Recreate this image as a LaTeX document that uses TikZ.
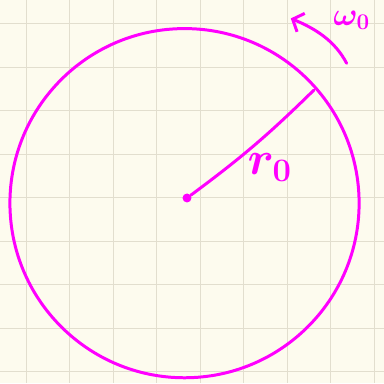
\documentclass[tikz,border=0pt]{standalone}
\usepackage{amsmath}
\usepackage{tikz}
\usetikzlibrary{arrows.meta}
\definecolor{paper}{RGB}{253,251,238}
\definecolor{gridgray}{RGB}{226,222,206}
\definecolor{pen}{RGB}{255,0,255}

\begin{document}
\begin{tikzpicture}[x=1pt, y=1pt,
    ink/.style={draw=pen, line width=3pt, line cap=round},
    gridline/.style={draw=gridgray, line width=0.9pt},
    hand/.style={text=pen, inner sep=0pt, font=\Huge, transform shape}
]
\fill[paper] (0,0) rectangle (384,383);
\foreach \k in {0,...,8} {
    \draw[gridline] (26+43.6*\k,0) -- (26+43.6*\k,383);
    \draw[gridline] (0,359.5-43.6*\k) -- (384,359.5-43.6*\k);
}
\node[ink, circle, minimum size=350pt, inner sep=0pt] (disc) at (184.5,179.8) {};
\node[circle, fill=pen, minimum size=9pt, inner sep=0pt] (center) at (187,185) {};
\coordinate (rim) at (314,293);
\draw[ink] (center) to[bend right=4] (rim);
\node[hand, scale=1.9] (radius) at (270,216)
    {$\boldsymbol{r_{\scriptscriptstyle 0}}$};
\coordinate (spinstart) at (347,320);
\coordinate (spintip) at (291,365);
\draw[ink, -{Straight Barb[length=9pt, width=20pt]}] (spinstart)
    .. controls (335,343) and (315,355) .. (spintip);
\node[hand, scale=1.3] (omega) at (352,363)
    {$\boldsymbol{\omega_{\scriptscriptstyle 0}}$};
\end{tikzpicture}
\end{document}
